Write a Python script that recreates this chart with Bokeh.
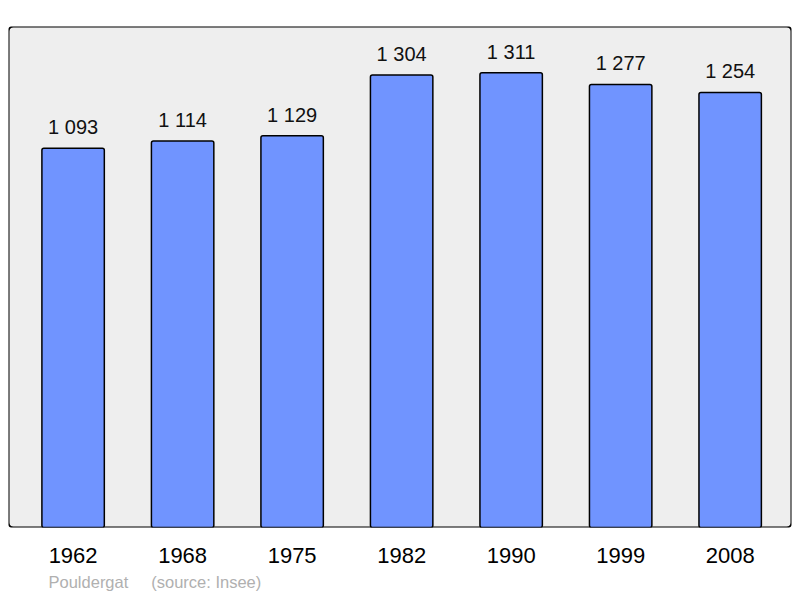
from bokeh.plotting import figure
from bokeh.models import Range1d, FixedTicker, BoxAnnotation, ColumnDataSource, Title
from bokeh.core.properties import value
from bokeh.embed import file_html
from bokeh.resources import INLINE

years = ["1962", "1968", "1975", "1982", "1990", "1999", "2008"]
population = [1093, 1114, 1129, 1304, 1311, 1277, 1254]
value_labels = ["1 093", "1 114", "1 129", "1 304", "1 311", "1 277", "1 254"]

idx = list(range(len(years)))
src = ColumnDataSource(dict(x=idx, top=population, lab=value_labels))

p = figure(width=793, height=596, output_backend="svg", toolbar_location=None,
           x_range=Range1d(-0.59, 6.56), y_range=Range1d(0, 1444),
           min_border_left=8, min_border_right=2, min_border_top=26, min_border_bottom=69)
p.background_fill_color = None
p.border_fill_color = "white"
p.outline_line_color = None
p.grid.visible = False
p.yaxis.visible = False

frame = BoxAnnotation(fill_color="#eeeeee", fill_alpha=1, line_color="black", line_alpha=1,
                      line_width=2, border_radius=5, level="underlay")
p.add_layout(frame)

p.vbar(x="x", top="top", bottom=0, width=0.57, source=src, fill_color="#7094ff",
       line_color="black", line_width=1.5, border_radius=2)
p.text(x="x", y="top", text="lab", source=src, text_align="center", text_baseline="alphabetic",
       y_offset=-21, text_font_size="20px", text_color="#111111",
       text_font=value("Liberation Sans"))

ax = p.xaxis[0]
ax.ticker = FixedTicker(ticks=idx)
ax.major_label_overrides = {i: y for i, y in zip(idx, years)}
ax.axis_line_color = None
ax.major_tick_line_color = None
ax.minor_tick_line_color = None
ax.major_tick_out = 0
ax.major_label_standoff = 20
ax.major_label_text_font_size = "22px"
ax.major_label_text_font = "Liberation Sans"
ax.major_label_text_color = "black"

src_text = "Pouldergat" + "\u00a0" * 5 + "(source: Insee)"
t = Title(text=src_text, align="left", offset=40,
          text_font_size="16.5px", text_font="Liberation Sans", text_font_style="normal",
          text_color="#b0b0b0", standoff=11)
p.add_layout(t, "below")

open("out.html", "w").write(file_html(p, INLINE))
